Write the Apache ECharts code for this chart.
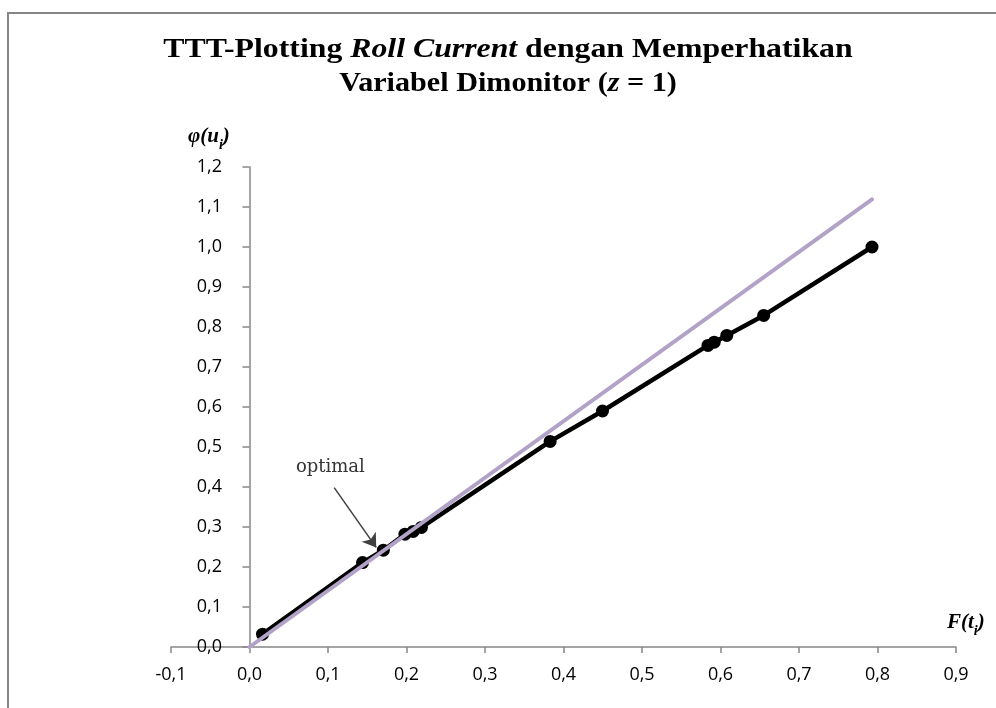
<!DOCTYPE html>
<html>
<head>
<meta charset="utf-8">
<script src="https://cdn.jsdelivr.net/npm/echarts@6/dist/echarts.min.js"></script>
<style>html,body{margin:0;padding:0;background:#fff}#c{width:996px;height:708px}</style>
</head>
<body>
<div id="c"></div>
<script>
// Data
var ttt_F = [0.0166, 0.144, 0.1705, 0.198, 0.2085, 0.219, 0.383, 0.4497, 0.584, 0.592, 0.608, 0.655, 0.793];
var ttt_phi = [0.032, 0.211, 0.242, 0.282, 0.289, 0.299, 0.514, 0.59, 0.754, 0.762, 0.779, 0.829, 1.0];
var optimal_F = [0, 0.793];
var optimal_phi = [0, 1.119];
var arrowStart = [0.1079, 0.3985];
var arrowEnd = [0.1614, 0.249];
var annotationPos = [0.103, 0.45];
var annotationText = 'optimal';
var xTicks = { min: -0.1, max: 0.9, step: 0.1 };
var yTicks = { min: 0, max: 1.2, step: 0.1 };
var titleLine1 = '{b|TTT-Plotting }{i|Roll Current}{b| dengan Memperhatikan}';
var titleLine2 = '{b|Variabel Dimonitor (}{i|z}{b| = 1)}';

function zip(a, b) { return a.map(function (v, i) { return [v, b[i]]; }); }
function fmt(v) { return (Math.round(v * 10) / 10).toFixed(1).replace('.', ','); }

var chart = echarts.init(document.getElementById('c'), null, { renderer: 'canvas' });
var labelFont = { fontFamily: 'Open Sans', fontSize: 18, color: '#000' };
var axisGrey = '#868686';
var titleRich = {
  b: { fontFamily: 'Liberation Serif', fontWeight: 'bold', fontSize: 28, fill: '#000' },
  i: { fontFamily: 'Liberation Serif', fontWeight: 'bold', fontStyle: 'italic', fontSize: 28, fill: '#000' }
};
var nameRich = {
  b: { fontFamily: 'Liberation Serif', fontWeight: 'bold', fontStyle: 'italic', fontSize: 21, lineHeight: 26, verticalAlign: 'top', fill: '#000' },
  s: { fontFamily: 'Liberation Serif', fontWeight: 'bold', fontStyle: 'italic', fontSize: 14, lineHeight: 14, verticalAlign: 'bottom', fill: '#000' }
};

chart.setOption({
  animation: false,
  backgroundColor: '#fff',
  grid: { left: 171, top: 167, width: 785, height: 480, containLabel: false },
  xAxis: {
    type: 'value', min: xTicks.min, max: xTicks.max, interval: xTicks.step,
    axisLine: { show: true, lineStyle: { color: axisGrey, width: 1.5 } },
    axisTick: { show: true, length: 6, lineStyle: { color: axisGrey, width: 1.5 } },
    axisLabel: Object.assign({ margin: 19, formatter: fmt, showMinLabel: true, showMaxLabel: true }, labelFont),
    splitLine: { show: false }
  },
  yAxis: {
    type: 'value', min: yTicks.min, max: yTicks.max, interval: yTicks.step,
    axisLine: { show: true, onZero: true, lineStyle: { color: axisGrey, width: 1.5 } },
    axisTick: { show: true, length: 7, lineStyle: { color: axisGrey, width: 1.5 } },
    axisLabel: Object.assign({ margin: -51, formatter: fmt, showMinLabel: true, showMaxLabel: true }, labelFont),
    splitLine: { show: false }
  },
  graphic: [
    { type: 'rect', shape: { x: 8, y: 13, width: 1100, height: 800 }, style: { fill: 'none', stroke: '#868686', lineWidth: 2 }, silent: true },
    { type: 'text', x: 508, y: 50, scaleX: 1.135, scaleY: 1, silent: true,
      style: { text: titleLine1, align: 'center', verticalAlign: 'middle', fontFamily: 'Liberation Serif', fontWeight: 'bold', fontSize: 28, rich: titleRich } },
    { type: 'text', x: 508, y: 84, scaleX: 1.077, scaleY: 1, silent: true,
      style: { text: titleLine2, align: 'center', verticalAlign: 'middle', fontFamily: 'Liberation Serif', fontWeight: 'bold', fontSize: 28, rich: titleRich } },
    { type: 'text', left: 188, top: 126, silent: true, style: { text: '{b|φ(u}{s|i}{b|)}', rich: nameRich } },
    { type: 'text', left: 947, top: 612, silent: true, style: { text: '{b|F(t}{s|i}{b|)}', rich: nameRich } }
  ],
  series: [
    {
      type: 'line', name: 'TTT', data: zip(ttt_F, ttt_phi),
      symbol: 'circle', symbolSize: 13, showAllSymbol: true,
      lineStyle: { color: '#000', width: 4.5 },
      itemStyle: { color: '#000' },
      z: 2
    },
    {
      type: 'line', name: 'optimal', data: zip(optimal_F, optimal_phi),
      symbol: 'none',
      lineStyle: { color: '#B3A2C7', width: 4, cap: 'round' },
      z: 3,
      markLine: {
        silent: true, symbol: ['none', 'arrow'], symbolSize: 13, precision: 4,
        lineStyle: { color: '#404040', width: 1.5, type: 'solid' },
        itemStyle: { color: '#404040' },
        label: { show: false },
        emphasis: { disabled: true },
        data: [[{ coord: arrowStart }, { coord: arrowEnd }]]
      },
      markPoint: {
        silent: true, symbol: 'circle', symbolSize: 1,
        itemStyle: { color: 'rgba(0,0,0,0)' },
        label: { show: true, position: 'inside', formatter: annotationText, fontFamily: 'DejaVu Serif', fontSize: 18, color: '#333' },
        data: [{ coord: annotationPos }]
      }
    }
  ]
});
</script>
</body>
</html>
